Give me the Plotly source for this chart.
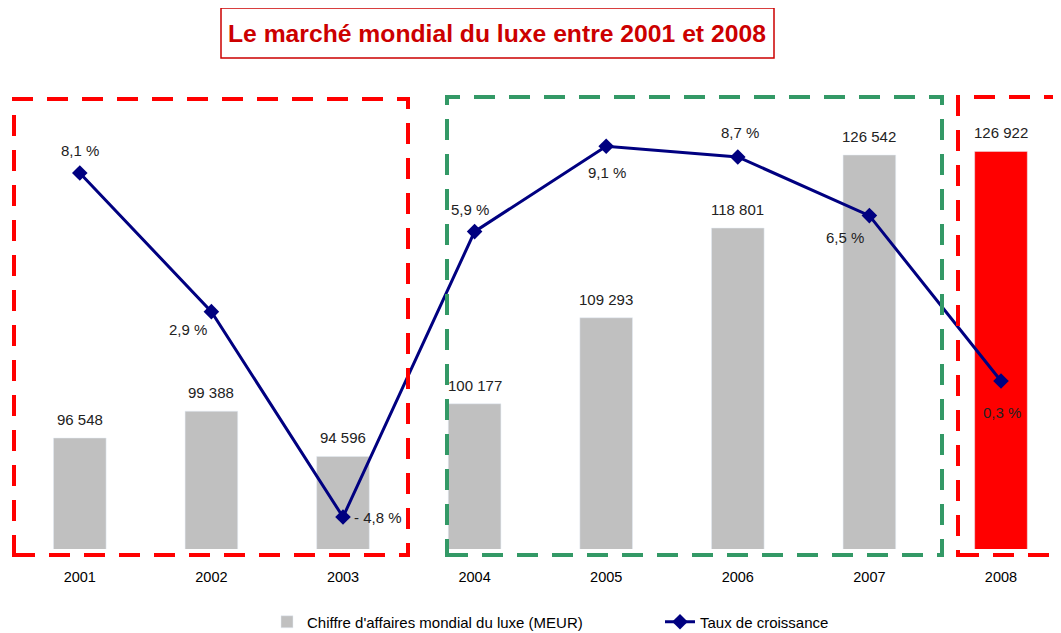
import plotly.graph_objects as go

years = ["2001", "2002", "2003", "2004", "2005", "2006", "2007", "2008"]
revenue = [96548, 99388, 94596, 100177, 109293, 118801, 126542, 126922]
revenue_labels = ["96 548", "99 388", "94 596", "100 177", "109 293", "118 801", "126 542", "126 922"]
growth = [8.1, 2.9, -4.8, 5.9, 9.1, 8.7, 6.5, 0.3]
growth_labels = ["8,1 %", "2,9 %", "- 4,8 %", "5,9 %", "9,1 %", "8,7 %", "6,5 %", "0,3 %"]

# label offsets (style only): pixel shifts from each marker
growth_dx = [0, -23, 0, -5, 1, 2, -24, 1]
growth_dy = [22, -18, 0, 22, -26, 24, -22, -32]
growth_anchor = ["center", "center", "left", "center", "center", "center", "center", "center"]
bar_colors = ["#C0C0C0"] * 7 + ["#FF0000"]

FONT = "Liberation Sans, Arial, sans-serif"

OFF = 8  # page body margin
W, H = 1061 - OFF, 633 - OFF
L, R, T, B = 14 - OFF, 0, 90 - OFF, 633 - 549
pw = W - L - R
ph = H - T - B


def px(sx):
    return (sx - OFF - L) / pw


def py(sy):
    return (T + ph - (sy - OFF)) / ph


fig = go.Figure()
fig.add_trace(go.Bar(
    x=list(range(len(years))), y=revenue, marker_color=bar_colors,
    width=0.4, yaxis="y", hoverinfo="skip",
    name="Chiffre d'affaires mondial du luxe (MEUR)",
))
fig.add_trace(go.Scatter(
    x=list(range(len(years))), y=growth, mode="lines+markers",
    line=dict(color="#000080", width=3),
    marker=dict(symbol="diamond", size=12, color="#000080"),
    cliponaxis=False, yaxis="y2", hoverinfo="skip",
    name="Taux de croissance",
))

for i, (v, t) in enumerate(zip(revenue, revenue_labels)):
    fig.add_annotation(x=i, y=v, xref="x", yref="y", text=t, showarrow=False,
                       yanchor="bottom", yshift=8,
                       font=dict(family=FONT, size=15, color="#222222"))

for i, (v, t) in enumerate(zip(growth, growth_labels)):
    fig.add_annotation(x=i, y=v, xref="x", yref="y2", text=t, showarrow=False,
                       xanchor=growth_anchor[i], yanchor="middle",
                       xshift=growth_dx[i] + (9 if growth_anchor[i] == "left" else 0),
                       yshift=growth_dy[i],
                       font=dict(family=FONT, size=15, color="#222222"))

dash = "21px,14px"
boxes = [
    (14, 408, 99, 555, "#FF0000"),
    (447, 942, 97, 555, "#339966"),
    (958, 1080, 97, 555, "#FF0000"),
]
for x0, x1, y0, y1, c in boxes:
    fig.add_shape(type="rect", xref="paper", yref="paper",
                  x0=px(x0), x1=px(x1), y0=py(y1), y1=py(y0),
                  line=dict(color=c, width=4, dash=dash), layer="above")

# title box
fig.add_shape(type="rect", xref="paper", yref="paper",
              x0=px(221), x1=px(774), y0=py(58), y1=py(8),
              line=dict(color="#CC0000", width=1.5), fillcolor="white", layer="below")
fig.add_annotation(xref="paper", yref="paper", x=px(497), y=py(33),
                   xanchor="center", yanchor="middle",
                   text="<b>Le marché mondial du luxe entre 2001 et 2008</b>",
                   showarrow=False, font=dict(family=FONT, size=24.7, color="#CC0000"))

fig.update_layout(
    width=W, height=H, margin=dict(l=L, r=R, t=T, b=B, autoexpand=False),
    plot_bgcolor="white", paper_bgcolor="white",
    font=dict(family=FONT, size=14, color="#000000"),
    showlegend=True,
    legend=dict(orientation="h", x=px(267), xanchor="left", y=py(622), yanchor="middle",
                font=dict(family=FONT, size=15), entrywidth=348, traceorder="normal"),
    xaxis=dict(range=[-0.5, 7.456], tickmode="array", tickvals=list(range(len(years))),
               ticktext=years, showgrid=False, zeroline=False, showline=False,
               ticks="outside", ticklen=15, tickcolor="rgba(0,0,0,0)",
               tickfont=dict(family=FONT, size=14.5, color="#000000")),
    yaxis=dict(range=[84783, 133432], visible=False, showgrid=False),
    yaxis2=dict(range=[-6.0, 11.21], overlaying="y", visible=False, showgrid=False),
)

fig.write_html("out.html")
